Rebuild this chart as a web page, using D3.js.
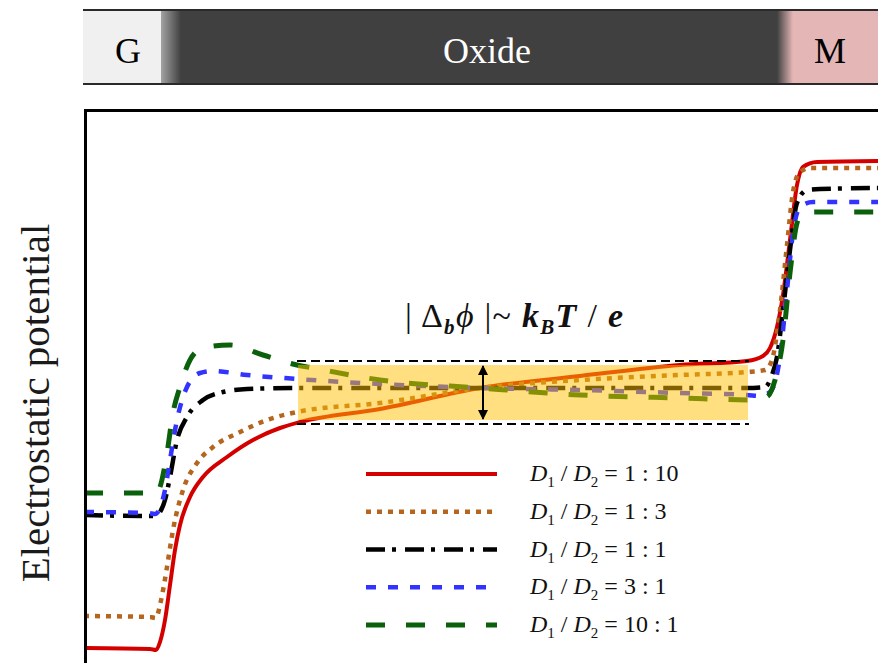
<!DOCTYPE html>
<html><head><meta charset="utf-8">
<script src="https://cdn.jsdelivr.net/npm/d3@7"></script>
<style>
html,body{margin:0;padding:0;background:#fff;}
svg{display:block;font-family:"Liberation Serif","Times New Roman",serif;}
</style>
</head><body>
<svg id="chart" width="878" height="663"></svg>
<script>
// ---------- data ----------
const layerLabels = ["G", "Oxide", "M"];
const layerColors = ["#f0f0f0", "#404040", "#e5b6b6"];
const layerTextColors = ["#000", "#fff", "#000"];
// G ends, Oxide starts, Oxide ends, M starts (position units)
const layerEdges = [0, 7.7, 9.7, 69.3, 70.9, 79.4];
const layerCenters = [4.4, 40.3, 74.6];

const ratioLabels = ["1 : 10", "1 : 3", "1 : 1", "3 : 1", "10 : 1"];

const redX = [0, 6.6, 7.2, 7.6, 8.1, 8.6, 9.1, 9.6, 10.6, 11.9, 14.3, 16.9, 19.6, 21.6, 29.6, 39.6, 49.6, 59.6, 66.3, 67.9, 68.6, 69.3, 69.9, 70.6, 71.3, 71.9, 73.3, 79.4];
const redY = [1.5, 1.4, 1.3, 2.1, 4.3, 7.8, 11.3, 13.8, 16.6, 18.6, 20.6, 22.3, 23.5, 24.1, 25.4, 27.5, 28.7, 29.8, 30.2, 30.7, 31.5, 33.6, 36.8, 42.3, 47.8, 49.6, 50.1, 50.2];

const orangeX = [0, 6.6, 7.2, 7.6, 8.0, 8.3, 8.9, 9.9, 11.3, 12.9, 15.6, 18.3, 21.3, 29.6, 39.6, 49.6, 59.6, 66.3, 68.1, 68.8, 69.6, 70.3, 70.9, 71.6, 72.6, 79.4];
const orangeY = [4.7, 4.6, 4.5, 5.8, 7.8, 9.6, 13.3, 17.3, 20.0, 21.6, 23.1, 24.3, 25.1, 26.0, 27.5, 28.3, 28.8, 29.1, 29.3, 30.3, 35.3, 41.8, 47.1, 49.1, 49.5, 49.5];

const blackX = [0, 6.6, 7.2, 7.6, 8.1, 8.6, 9.3, 10.3, 11.9, 13.9, 16.3, 21.3, 39.6, 66.3, 68.1, 68.8, 69.3, 69.9, 70.6, 71.3, 72.3, 73.6, 79.4];
const blackY = [14.8, 14.7, 14.7, 15.1, 16.3, 18.6, 22.3, 24.6, 26.3, 27.1, 27.4, 27.5, 27.5, 27.5, 27.6, 28.8, 30.6, 35.3, 41.3, 46.0, 47.3, 47.4, 47.5];

const blueX = [0, 6.4, 7.1, 7.6, 8.1, 8.6, 9.3, 10.3, 11.6, 12.9, 16.3, 21.3, 29.6, 39.6, 49.6, 59.6, 66.3, 67.6, 68.6, 69.6, 70.3, 70.9, 71.6, 72.9, 79.4];
const blueY = [15.1, 15.0, 14.9, 15.5, 17.3, 20.3, 24.3, 27.6, 29.0, 29.2, 28.8, 28.4, 27.9, 27.5, 27.3, 27.0, 26.8, 26.7, 27.1, 30.6, 37.3, 43.0, 45.6, 46.1, 46.1];

const greenX = [0, 6.3, 7.1, 7.6, 8.3, 8.9, 9.6, 10.6, 11.9, 14.6, 17.9, 21.3, 22.9, 29.6, 39.6, 49.6, 59.6, 67.3, 68.4, 69.1, 69.9, 70.6, 71.3, 71.9, 73.3, 79.4];
const greenY = [17.0, 17.0, 16.9, 17.6, 21.0, 25.0, 27.6, 30.3, 31.5, 31.8, 30.8, 29.8, 29.5, 28.3, 27.5, 26.8, 26.5, 26.3, 26.7, 28.3, 32.3, 39.0, 44.0, 45.0, 45.1, 45.1];

// band of ~kBT/e
const bandX = [21.4, 66.4];
const bandY = [24.3, 29.8];
const bandLinesY = [23.9, 30.2];
const arrowX = 39.9;

// ---------- styles ----------
const seriesStyles = [
  {color: "#d40000", width: 4,   dash: null},
  {color: "#b5651d", width: 4.5, dash: "5,6"},
  {color: "#000000", width: 4.5, dash: "19,7,4,9"},
  {color: "#3333ff", width: 4.5, dash: "10,12"},
  {color: "#0b610b", width: 5,   dash: "19,21"}
];
const seriesX = [redX, orangeX, blackX, blueX, greenX];
const seriesY = [redY, orangeY, blackY, blueY, greenY];

const svg = d3.select("#chart");
const x = d3.scaleLinear().domain([0, 79.4]).range([84, 878]);
const y = d3.scaleLinear().domain([0, 55.3]).range([663, 110]);

// ---------- top layer bar ----------
const defs = svg.append("defs");
const grad = defs.append("linearGradient").attr("id", "layers")
  .attr("gradientUnits", "userSpaceOnUse")
  .attr("x1", x(0)).attr("x2", x(79.4)).attr("y1", 0).attr("y2", 0);
const stops = [
  [layerEdges[0], layerColors[0]], [layerEdges[1], layerColors[0]],
  [layerEdges[1] + 0.05, "#a0a0a0"],
  [layerEdges[2], layerColors[1]], [layerEdges[3], layerColors[1]],
  [layerEdges[4], layerColors[2]], [layerEdges[5], layerColors[2]]
];
stops.forEach(([p, c]) => grad.append("stop")
  .attr("offset", (x(p) - x(0)) / (x(79.4) - x(0))).attr("stop-color", c));

svg.append("rect").attr("x", x(0) - 1).attr("y", 10).attr("width", 880 - x(0))
  .attr("height", 74).attr("fill", "url(#layers)");
svg.append("line").attr("x1", x(0) - 1).attr("x2", 878).attr("y1", 10).attr("y2", 10)
  .attr("stroke", "#2a2a2a").attr("stroke-width", 2);
svg.append("line").attr("x1", x(0) - 1).attr("x2", 878).attr("y1", 84).attr("y2", 84)
  .attr("stroke", "#2a2a2a").attr("stroke-width", 2);
svg.selectAll("text.layer").data(layerLabels).join("text").attr("class", "layer")
  .attr("x", (d, i) => x(layerCenters[i])).attr("y", 63)
  .attr("text-anchor", "middle").attr("font-size", 36)
  .attr("fill", (d, i) => layerTextColors[i]).text(d => d);

// ---------- plot ----------
defs.append("clipPath").attr("id", "plotclip").append("rect")
  .attr("x", 86).attr("y", 111).attr("width", 800).attr("height", 560);

const line = d3.line().x(d => x(d[0])).y(d => y(d[1])).curve(d3.curveMonotoneX);
const g = svg.append("g").attr("clip-path", "url(#plotclip)");
seriesX.forEach((xs, i) => {
  const pts = xs.map((v, j) => [v, seriesY[i][j]]);
  g.append("path").datum(pts).attr("d", line)
    .attr("fill", "none").attr("stroke", seriesStyles[i].color)
    .attr("stroke-width", seriesStyles[i].width)
    .attr("stroke-dasharray", seriesStyles[i].dash)
    .attr("stroke-linejoin", "round");
});

// yellow band
svg.append("rect").attr("x", x(bandX[0])).attr("y", y(bandY[1]))
  .attr("width", x(bandX[1]) - x(bandX[0])).attr("height", y(bandY[0]) - y(bandY[1]))
  .attr("fill", "#ffbf00").attr("opacity", 0.5);
bandLinesY.forEach(v => svg.append("line")
  .attr("x1", x(bandX[0]) - 1).attr("x2", x(bandX[1]) + 1).attr("y1", y(v)).attr("y2", y(v))
  .attr("stroke", "#000").attr("stroke-width", 2).attr("stroke-dasharray", "9,5"));

// double arrow
defs.append("marker").attr("id", "arr")
  .attr("viewBox", "0 0 10 10").attr("refX", 9).attr("refY", 5)
  .attr("markerWidth", 10).attr("markerHeight", 10).attr("markerUnits", "userSpaceOnUse")
  .attr("orient", "auto-start-reverse")
  .append("path").attr("d", "M0,0 L10,5 L0,10 Z").attr("fill", "#000");
svg.append("line").attr("x1", x(arrowX)).attr("x2", x(arrowX))
  .attr("y1", y(bandY[1]) + 1).attr("y2", y(bandY[0]) - 1)
  .attr("stroke", "#000").attr("stroke-width", 2)
  .attr("marker-start", "url(#arr)").attr("marker-end", "url(#arr)");

// annotation
const ann = svg.append("text").attr("x", 405).attr("y", 327).attr("font-size", 34)
  .attr("fill", "#111").attr("textLength", 218).attr("lengthAdjust", "spacing");
ann.append("tspan").text("| \u0394");
ann.append("tspan").attr("font-style", "italic").attr("font-weight", "bold").attr("font-size", 21).attr("dy", 7).text("b");
ann.append("tspan").attr("font-style", "italic").attr("dy", -7).text("\u03D5");
ann.append("tspan").text(" |~ ");
ann.append("tspan").attr("font-style", "italic").attr("font-weight", "bold").text("k");
ann.append("tspan").attr("font-style", "italic").attr("font-weight", "bold").attr("font-size", 21).attr("dy", 7).text("B");
ann.append("tspan").attr("font-style", "italic").attr("font-weight", "bold").attr("dy", -7).text("T");
ann.append("tspan").text(" / ");
ann.append("tspan").attr("font-style", "italic").attr("font-weight", "bold").text("e");

// frame
svg.append("path").attr("d", "M85.5,700 V110.5 H900").attr("fill", "none")
  .attr("stroke", "#000").attr("stroke-width", 3);

// y label
svg.append("text").attr("transform", "translate(49,403) rotate(-90)")
  .attr("text-anchor", "middle").attr("font-size", 41).attr("fill", "#1a1a1a")
  .text("Electrostatic potential");

// legend
const legY0 = 474, legDy = 37.75;
ratioLabels.forEach((lab, i) => {
  const yy = legY0 + i * legDy;
  svg.append("line").attr("x1", 366).attr("x2", 497).attr("y1", yy).attr("y2", yy)
    .attr("stroke", seriesStyles[i].color).attr("stroke-width", seriesStyles[i].width)
    .attr("stroke-dasharray", seriesStyles[i].dash);
  const t = svg.append("text").attr("x", 530).attr("y", yy + 7).attr("font-size", 24).attr("fill", "#111");
  t.append("tspan").attr("font-style", "italic").text("D");
  t.append("tspan").attr("font-size", 15).attr("dy", 6).text("1");
  t.append("tspan").attr("dy", -6).text(" / ");
  t.append("tspan").attr("font-style", "italic").text("D");
  t.append("tspan").attr("font-size", 15).attr("dy", 6).text("2");
  t.append("tspan").attr("dy", -6).text(" = " + lab);
});
</script>
</body></html>
